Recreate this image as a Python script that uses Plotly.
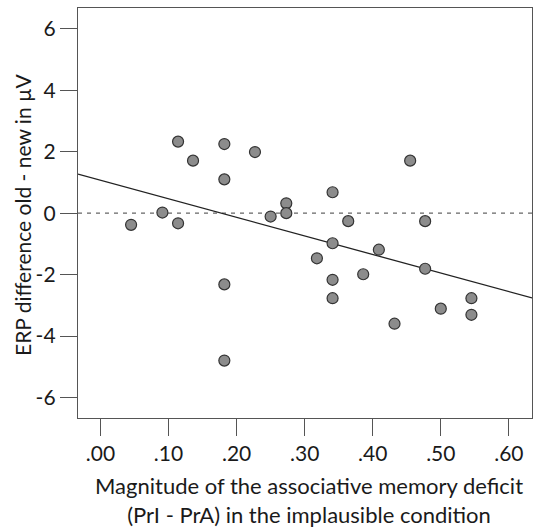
import plotly.graph_objects as go

# Associative memory deficit (PrI - PrA) per participant
deficit = [0.045, 0.091, 0.114, 0.114, 0.136, 0.182, 0.182, 0.182, 0.182, 0.227,
           0.250, 0.273, 0.273, 0.318, 0.341, 0.341, 0.341, 0.341, 0.364, 0.386,
           0.409, 0.432, 0.455, 0.477, 0.477, 0.500, 0.545, 0.545]
# ERP old/new difference in microvolts
erp_diff = [-0.38, 0.02, -0.33, 2.33, 1.71, 2.25, 1.10, -2.32, -4.80, 1.99,
            -0.11, 0.32, 0.00, -1.47, 0.68, -0.98, -2.17, -2.77, -0.26, -1.99,
            -1.19, -3.60, 1.71, -0.26, -1.81, -3.11, -2.77, -3.31]

# Linear fit (intercept, slope)
fit_intercept = 1.07
fit_slope = -6.04

x_range = [-0.033, 0.634]
y_range = [-6.67, 6.68]

x_tick_vals = [0.0, 0.1, 0.2, 0.3, 0.4, 0.5, 0.6]
x_tick_text = [".00", ".10", ".20", ".30", ".40", ".50", ".60"]
y_tick_vals = [-6, -4, -2, 0, 2, 4, 6]
y_tick_text = ["-6", "-4", "-2", "0", "2", "4", "6"]

x_title = "Magnitude of the associative memory deficit<br>(PrI - PrA) in the implausible condition"
y_title = "ERP difference old - new in µV"

FONT = "Lato"
TEXT_COLOR = "#1a1a1a"
AXIS_COLOR = "#555555"

fig = go.Figure()

# zero reference line
fig.add_trace(go.Scatter(
    x=x_range, y=[0, 0], mode="lines",
    line=dict(color="#666666", width=1.3, dash="4px,5px"),
    hoverinfo="skip", showlegend=False,
))

# regression line
fig.add_trace(go.Scatter(
    x=x_range, y=[fit_intercept + fit_slope * v for v in x_range], mode="lines",
    line=dict(color="#222222", width=1.3),
    hoverinfo="skip", showlegend=False,
))

# participants
fig.add_trace(go.Scatter(
    x=deficit, y=erp_diff, mode="markers",
    marker=dict(size=11, color="#8c8c8c", line=dict(color="#333333", width=1.2)),
    showlegend=False,
))

axis_common = dict(
    showgrid=False, zeroline=False,
    showline=True, linecolor=AXIS_COLOR, linewidth=1.4, mirror=True,
    ticks="outside", ticklen=17, tickwidth=1.4, tickcolor=AXIS_COLOR,
    tickfont=dict(family=FONT, size=21, color=TEXT_COLOR),
)

fig.update_xaxes(range=x_range, tickvals=x_tick_vals, ticktext=x_tick_text, **axis_common)
fig.update_yaxes(range=y_range, tickvals=y_tick_vals, ticktext=y_tick_text, **axis_common)

fig.add_annotation(
    text=y_title, xref="paper", yref="paper", x=0, y=0.5,
    xanchor="center", yanchor="middle", xshift=-56, yshift=-2, textangle=-90,
    showarrow=False, font=dict(family=FONT, size=21, color=TEXT_COLOR),
)
fig.add_annotation(
    text=x_title, xref="paper", yref="paper", x=0.5, y=0,
    xanchor="center", yanchor="middle", xshift=4, yshift=-82,
    showarrow=False, font=dict(family=FONT, size=22, color=TEXT_COLOR),
)

fig.update_layout(
    width=534, height=529,
    margin=dict(l=78, r=2, t=8, b=111),
    paper_bgcolor="white", plot_bgcolor="white",
    font=dict(family=FONT),
)

fig.write_html("out.html")
